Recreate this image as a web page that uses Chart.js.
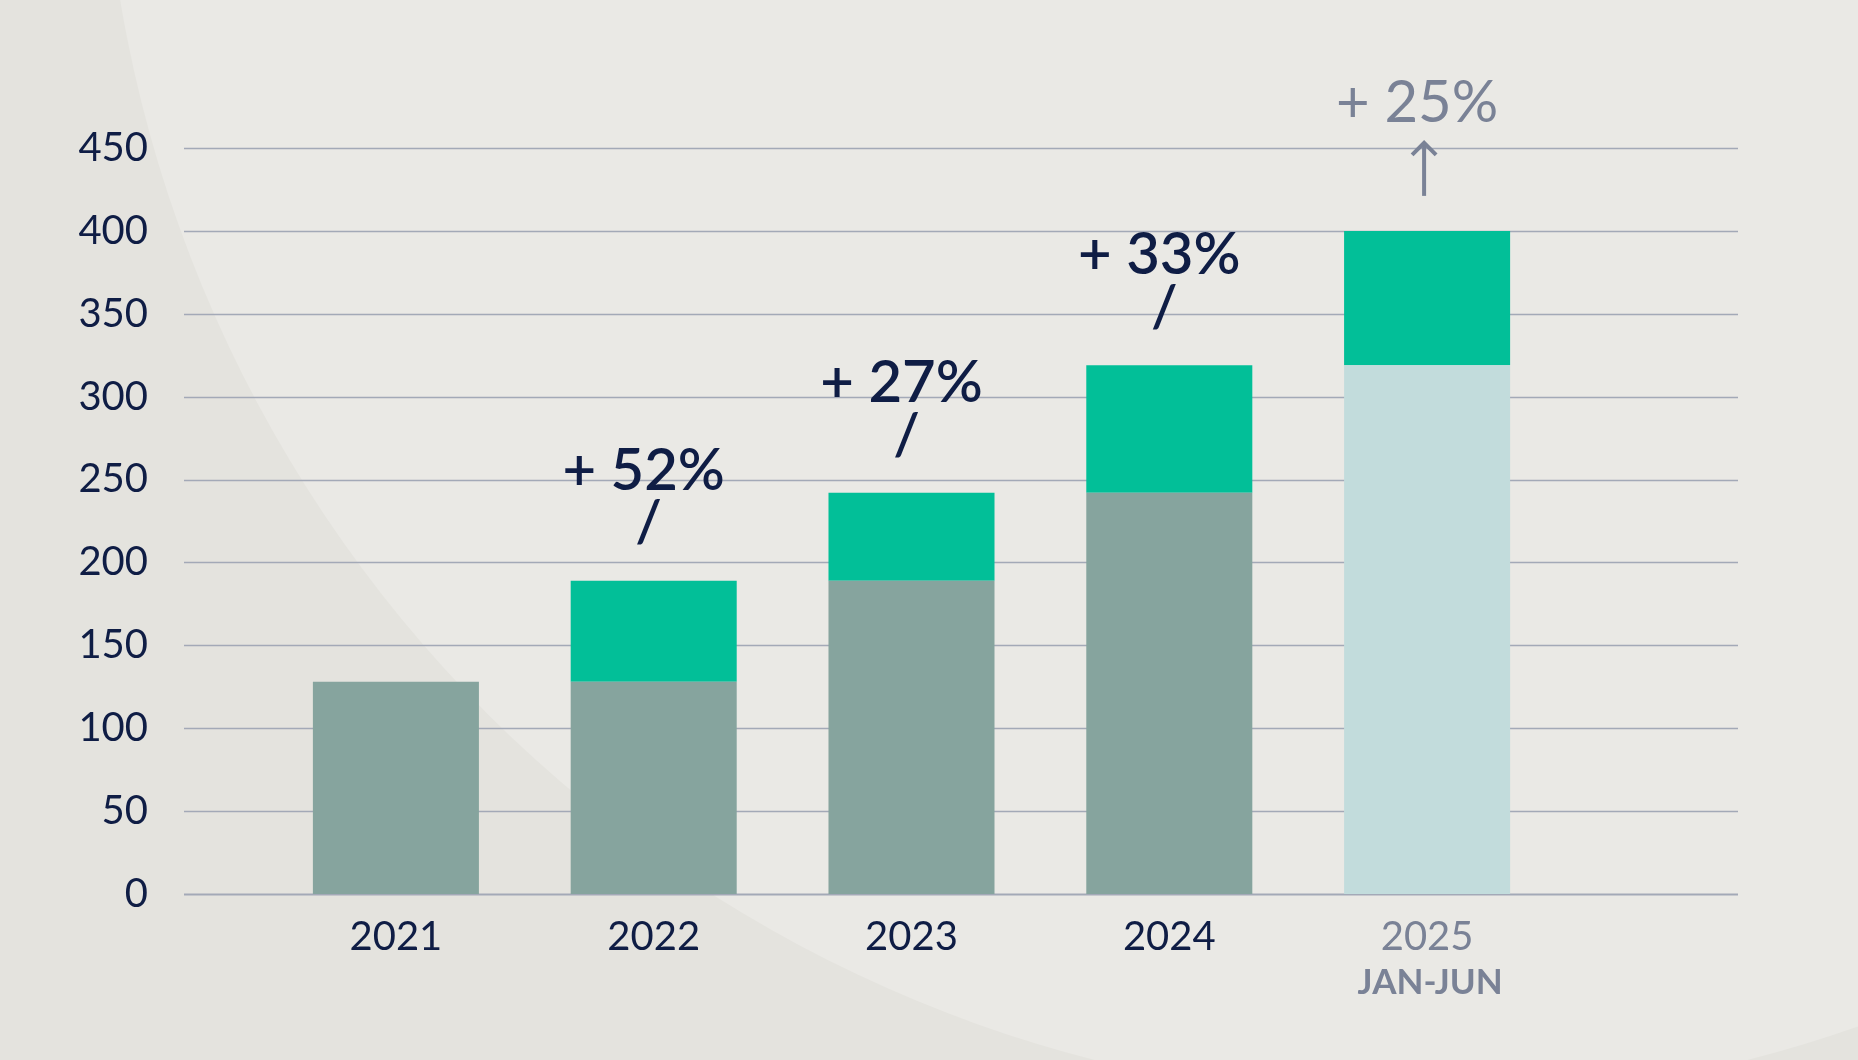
<!DOCTYPE html>
<html>
<head>
<meta charset="utf-8">
<title>Growth chart</title>
<script src="https://cdn.jsdelivr.net/npm/chart.js@4.4.1/dist/chart.umd.min.js"></script>
<style>
    html, body { margin: 0; padding: 0; background: #e4e3de; }
    #wrap { width: 1858px; height: 1060px; position: relative; }
</style>
</head>
<body>
<div id="wrap"><canvas id="lienzo"></canvas></div>
<script>
'use strict';

// datos
const years = ['2021', '2022', '2023', '2024', '2025'];
const previousTotal = [128, 128, 189, 242, 319];
const growthAdded = [0, 61, 53, 77, 81];
const growthLabels = [null, '+ 52%', '+ 27%', '+ 33%', '+ 25%'];
const periodNotes = [null, null, null, null, 'JAN-JUN'];
const yTicks = [0, 50, 100, 150, 200, 250, 300, 350, 400, 450];

const NAVY = '#0f1d45';
const GREY = '#7a8296';
const baseColors = years.map((y, i) => i === years.length - 1 ? '#c2dcdc' : '#86a49e');

// fondo con el gran arco claro
const fondo = {
    id: 'fondo',
    beforeDraw(chart) {
        const c = chart.ctx;
        c.save();
        c.fillStyle = '#e4e3de';
        c.fillRect(0, 0, chart.width, chart.height);
        c.beginPath();
        c.arc(1421, -218, 1319, 0, Math.PI * 2);
        c.fillStyle = '#eae9e5';
        c.fill();
        c.restore();
    }
};

// lineas de la rejilla, mas anchas que el area de barras
const rejilla = {
    id: 'rejilla',
    beforeDatasetsDraw(chart) {
        const c = chart.ctx;
        const ys = chart.scales.y;
        c.save();
        yTicks.forEach(v => {
            const y = Math.round(ys.getPixelForValue(v)) + 0.5;
            c.beginPath();
            c.moveTo(184, y);
            c.lineTo(1738, y);
            c.lineWidth = v === 0 ? 2 : 1.5;
            c.strokeStyle = '#a3a9b7';
            c.stroke();
        });
        c.restore();
    }
};

// etiquetas de crecimiento encima de cada barra
const etiquetas = {
    id: 'etiquetas',
    afterDatasetsDraw(chart) {
        const c = chart.ctx;
        const meta = chart.getDatasetMeta(1);
        const xs = chart.scales.x;
        c.save();
        c.textAlign = 'center';
        growthLabels.forEach((txt, i) => {
            if (!txt) return;
            const bar = meta.data[i];
            const x = bar.x;
            const top = bar.y;
            const last = i === growthLabels.length - 1;
            if (!last) {
                c.fillStyle = NAVY;
                c.font = '600 58px Lato';
                c.textBaseline = 'alphabetic';
                c.fillText(txt, x - 10, top - 91);
                c.textBaseline = 'middle';
                c.fillText('/', x - 5, top - 57);
            } else {
                c.fillStyle = GREY;
                c.font = '400 58px Lato';
                c.textBaseline = 'alphabetic';
                c.fillText(txt, x - 10, top - 109);
                // flecha hacia arriba
                const ax = x - 3;
                c.strokeStyle = GREY;
                c.lineWidth = 4;
                c.lineCap = 'butt';
                c.beginPath();
                c.moveTo(ax, top - 35);
                c.lineTo(ax, top - 88);
                c.stroke();
                c.beginPath();
                c.moveTo(ax - 12, top - 76);
                c.lineTo(ax, top - 88);
                c.lineTo(ax + 12, top - 76);
                c.stroke();
            }
        });
        // nota del periodo bajo el eje
        periodNotes.forEach((txt, i) => {
            if (!txt) return;
            c.fillStyle = GREY;
            c.font = '700 35px Lato';
            c.textBaseline = 'middle';
            c.fillText(txt, xs.getPixelForValue(i) + 3, 983);
        });
        c.restore();
    }
};

const ctx = document.getElementById('lienzo');

const myChart = new Chart(ctx, {
    type: 'bar',
    data: {
        labels: years,
        datasets: [{
            label: 'previous',
            data: previousTotal,
            backgroundColor: baseColors,
            borderWidth: 0
        },
        {
            label: 'growth',
            data: growthAdded,
            backgroundColor: '#02bf98',
            borderWidth: 0
        }]
    },
    options: {
        responsive: true,
        maintainAspectRatio: false,
        animation: false,
        events: [],
        layout: {
            padding: { top: 148, right: 302, bottom: 66, left: 0 }
        },
        plugins: {
            legend: { display: false },
            tooltip: { enabled: false }
        },
        datasets: {
            bar: { categoryPercentage: 1, barPercentage: 0.644 }
        },
        scales: {
            x: {
                stacked: true,
                grid: { display: false, drawTicks: false },
                border: { display: false },
                afterFit: scale => { scale.height = 100; },
                ticks: {
                    padding: 19,
                    font: { family: 'Lato', size: 40, weight: 400 },
                    color: c => c.index === years.length - 1 ? GREY : NAVY
                }
            },
            y: {
                stacked: true,
                min: 0,
                max: 450,
                grid: { display: false, drawTicks: false },
                border: { display: false },
                afterFit: scale => { scale.width = 267; },
                afterBuildTicks: scale => { scale.ticks = yTicks.map(v => ({ value: v })); },
                ticks: {
                    padding: 119,
                    font: { family: 'Lato', size: 40, weight: 400 },
                    color: NAVY
                }
            }
        }
    },
    plugins: [fondo, rejilla, etiquetas]
});
</script>
</body>
</html>
